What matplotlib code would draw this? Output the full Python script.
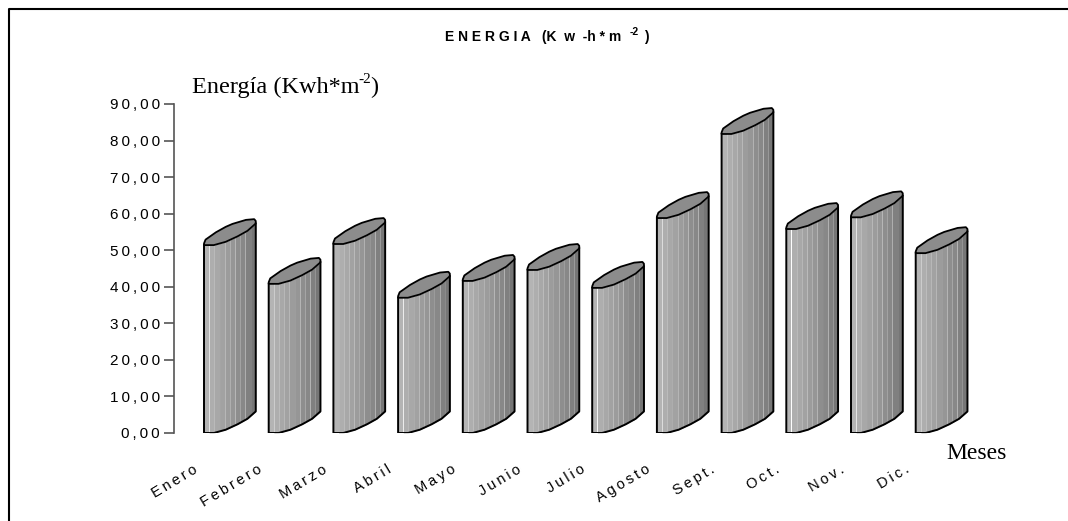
import numpy as np
import matplotlib
matplotlib.use('Agg')
import matplotlib.pyplot as plt
from matplotlib.patches import Polygon

# valores mensuales de energia
meses = ['Enero', 'Febrero', 'Marzo', 'Abril', 'Mayo', 'Junio', 'Julio',
         'Agosto', 'Sept.', 'Oct.', 'Nov.', 'Dic.']
energia = [51.4, 40.8, 51.7, 37.0, 41.6, 44.6, 39.7, 58.8, 81.8, 55.8, 59.0, 49.2]
ticks_y = [0, 10, 20, 30, 40, 50, 60, 70, 80, 90]

W, H = 1068, 521
HUECO = '\u2009'


def espaciar(s):
    return HUECO.join(s)


fig = plt.figure(figsize=(W / 100, H / 100), dpi=100)

# marco exterior: solo arriba y a la izquierda
marco = fig.add_axes([0, 0, 1, 1])
marco.set_xlim(0, W)
marco.set_ylim(H, 0)
marco.axis('off')
marco.plot([9, 9, W], [H, 9, 9], color='black', lw=1.5)

# ejes: el origen del eje y esta en x=174
ax = fig.add_axes([174 / W, 1 - 433 / H, (1000 - 174) / W, (433 - 104) / H])
ax.set_xlim(-30 / 64.7, (1000 - 204) / 64.7)
ax.set_ylim(0, 90)
ax.patch.set_alpha(0)
for lado in ['top', 'right', 'bottom']:
    ax.spines[lado].set_visible(False)
ax.spines['left'].set_color('#555555')
ax.spines['left'].set_linewidth(1.2)
ax.set_xticks([])
ax.set_yticks(ticks_y)
ax.set_yticklabels([espaciar('%.2f' % t).replace('.', ',') for t in ticks_y],
                   family='Liberation Sans', fontsize=11)
ax.tick_params(axis='y', length=7, width=1.2, color='#555555', pad=3)

# forma del cilindro inclinado
ancho = 0.80
u_frente = np.array([0, 0.19, 0.42, 0.65, 0.84, 1.0])
d_frente = np.array([0, 0, 0.9, 2.4, 3.9, 5.9])
u_atras = np.array([0, 0.03, 0.23, 0.42, 0.55, 0.81, 0.97, 1.0])
d_atras = np.array([0.45, 1.5, 3.5, 5.0, 5.8, 6.9, 7.1, 6.6])
grises = ['#b4b4b4', '#aeaeae', '#a8a8a8', '#a2a2a2', '#9c9c9c',
          '#969696', '#8e8e8e', '#888888', '#808080', '#767676']
n_bandas = len(grises)

for i, v in enumerate(energia):
    x0 = i
    # caras verticales en bandas de gris, de claro a oscuro
    for b in range(n_bandas):
        ua, ub = b / n_bandas, (b + 1) / n_bandas
        us = np.linspace(ua, ub, 5)
        ds = np.interp(us, u_frente, d_frente)
        xs = x0 + us * ancho
        ax.fill_between(xs, ds, v + ds, color=grises[b], lw=0, zorder=2)
        if b in (1, 3, 5, 7):
            ax.plot([xs[-1], xs[-1]], [ds[-1], v + ds[-1]], color='#bcbcbc', lw=0.5, zorder=2.5)
    # tapa superior
    xt = np.r_[x0 + u_frente * ancho, (x0 + u_atras * ancho)[::-1]]
    yt = np.r_[v + d_frente, (v + d_atras)[::-1]]
    ax.add_patch(Polygon(np.c_[xt, yt], closed=True, fc='#8c8c8c', ec='black',
                         lw=1.3, joinstyle='round', zorder=3))
    # contorno del cuerpo
    xb = np.r_[x0, x0 + u_frente * ancho, x0 + ancho]
    yb = np.r_[v, d_frente, v + d_frente[-1]]
    ax.plot(xb, yb, color='black', lw=1.4, zorder=3)
    # nombre del mes, girado
    ax.annotate(espaciar(meses[i]), xy=(x0 + 0.1, 0), xytext=(-13, -21),
                textcoords='offset points', rotation=31, ha='right', va='top',
                rotation_mode='anchor', family='Liberation Sans', fontsize=10.5)

# titulo, con el exponente aparte
fuente_titulo = dict(family='Liberation Sans', fontweight='bold', va='baseline')
marco.text(621, 41, 'E N E R G I A   (K  w  -h * m', ha='right', fontsize=10, **fuente_titulo)
marco.text(630, 35, '-2', ha='left', fontsize=7.5, **fuente_titulo)
marco.text(644, 41, ')', ha='left', fontsize=10, **fuente_titulo)

# rotulos de los ejes
fuente_eje = dict(family='Liberation Serif', va='baseline')
marco.text(192, 93, 'Energía (Kwh*m', fontsize=17.5, **fuente_eje)
marco.text(358, 83, '-2', fontsize=11, **fuente_eje)
marco.text(370, 93, ')', fontsize=17.5, **fuente_eje)
marco.text(946, 459, 'Meses', fontsize=17, **fuente_eje)

fig.savefig('out.png', dpi=100)
